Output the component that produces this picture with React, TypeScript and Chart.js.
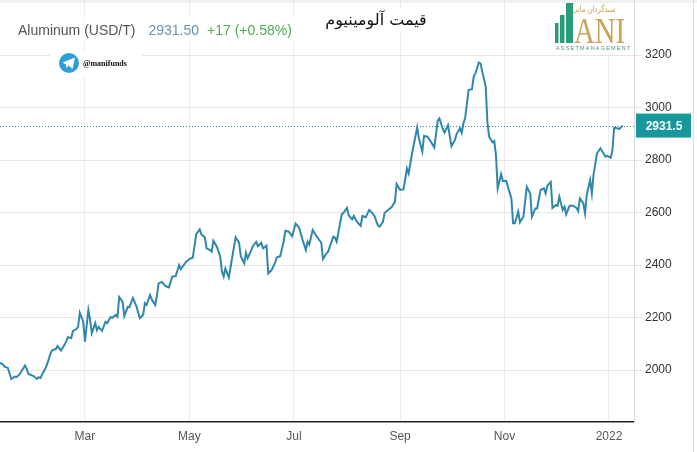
import { useEffect, useRef } from "react";
import { Chart, registerables } from "chart.js";

Chart.register(...registerables);

// day of year 2021 (Jan 1 = 0) for each sampled close
const days = [
  9, 11, 12, 14, 16, 18, 19, 21, 24, 25,
  26, 29, 31, 32, 33, 36, 37, 39, 40, 42,
  43, 45, 47, 48, 49, 51, 52, 54, 55, 56,
  58, 59, 61, 62, 63, 65, 66, 67, 69, 71,
  72, 74, 75, 77, 78, 79, 81, 82, 84, 85,
  87, 89, 91, 93, 94, 95, 97, 98, 100, 101,
  102, 104, 106, 108, 110, 112, 114, 115, 118, 120,
  122, 124, 126, 127, 129, 130, 132, 133, 134, 136,
  138, 139, 140, 141, 143, 145, 147, 149, 150, 152,
  153, 154, 156, 157, 159, 160, 162, 163, 165, 166,
  168, 170, 171, 173, 175, 176, 178, 180, 182, 184,
  186, 188, 189, 190, 192, 194, 195, 197, 198, 200,
  201, 204, 205, 206, 209, 210, 212, 213, 215, 216,
  218, 220, 221, 223, 225, 227, 228, 230, 231, 233,
  234, 236, 238, 240, 241, 243, 245, 247, 248, 250,
  253, 254, 256, 257, 259, 261, 263, 265, 266, 268,
  269, 271, 273, 275, 276, 278, 279, 280, 281, 283,
  285, 286, 287, 289, 290, 291, 293, 294, 295, 297,
  298, 299, 300, 302, 303, 305, 306, 308, 309, 310,
  312, 313, 315, 317, 319, 320, 322, 323, 325, 327,
  328, 329, 331, 332, 334, 335, 336, 338, 339, 340,
  342, 344, 346, 347, 348, 350, 351, 352, 354, 355,
  356, 358, 360, 361, 363, 364, 366, 367, 368, 370,
  371, 373,
];

const prices = [
  2027, 2023, 2013, 2008, 1966, 1975, 1973, 1985, 2017, 2004,
  1985, 1977, 1966, 1973, 1970, 2008, 2023, 2065, 2076, 2080,
  2091, 2074, 2095, 2108, 2125, 2122, 2149, 2156, 2165, 2218,
  2184, 2108, 2229, 2191, 2141, 2179, 2152, 2164, 2149, 2184,
  2179, 2202, 2199, 2210, 2203, 2278, 2260, 2206, 2241, 2240,
  2275, 2244, 2198, 2210, 2255, 2248, 2286, 2270, 2248, 2282,
  2330, 2336, 2320, 2315, 2356, 2358, 2400, 2384, 2412, 2423,
  2429, 2518, 2536, 2517, 2506, 2464, 2457, 2451, 2493, 2470,
  2432, 2375, 2356, 2387, 2353, 2429, 2506, 2485, 2434, 2407,
  2447, 2426, 2455, 2472, 2488, 2472, 2485, 2464, 2474, 2368,
  2381, 2409, 2429, 2434, 2489, 2531, 2527, 2510, 2558, 2543,
  2498, 2457, 2489, 2478, 2534, 2512, 2503, 2485, 2423, 2444,
  2451, 2508, 2504, 2489, 2594, 2599, 2618, 2590, 2574, 2587,
  2563, 2549, 2587, 2582, 2610, 2597, 2587, 2552, 2546, 2565,
  2599, 2610, 2620, 2641, 2709, 2686, 2688, 2768, 2749, 2825,
  2925, 2883, 2832, 2892, 2889, 2870, 2848, 2950, 2959, 2917,
  2904, 2933, 2853, 2876, 2899, 2921, 2904, 2940, 2959, 3067,
  3070, 3118, 3130, 3172, 3168, 3137, 3080, 2946, 2889, 2868,
  2873, 2819, 2692, 2746, 2720, 2720, 2698, 2654, 2559, 2559,
  2603, 2563, 2584, 2698, 2673, 2584, 2616, 2616, 2686, 2692,
  2673, 2702, 2717, 2618, 2629, 2626, 2660, 2610, 2622, 2593,
  2626, 2626, 2618, 2606, 2654, 2635, 2597, 2667, 2724, 2673,
  2746, 2826, 2845, 2834, 2813, 2816, 2809, 2838, 2923, 2921,
  2918, 2931.5,
];

const monthDays = [59, 120, 181, 243, 304, 365];
const monthLabels = ["Mar", "May", "Jul", "Sep", "Nov", "2022"];
const yTicks = [2000, 2200, 2400, 2600, 2800, 3000, 3200];
const lastPrice = 2931.5;

const titleName = "Aluminum (USD/T)";
const titlePrice = "2931.50";
const titleChange = "+17 (+0.58%)";
const titleFa = "قیمت آلومینیوم";
const telegramHandle = "@manifunds";
const logoFa = "سبدگردان مانی";
const logoMain = "ANI";
const logoSub = "ASSETMANAGEMENT";

const SANS = "'Liberation Sans', Arial, sans-serif";
const LINE = "#2f87ab";

const overlayPlugin = {
  id: "overlay",
  beforeDraw(chart: Chart) {
    const { ctx, width, height } = chart;
    ctx.save();
    ctx.fillStyle = "#fff";
    ctx.fillRect(0, 0, width, height);
    ctx.fillStyle = "#f1f1f1";
    ctx.fillRect(0, 0, width, 3);
    ctx.strokeStyle = "#dedede";
    ctx.lineWidth = 1;
    ctx.beginPath();
    ctx.moveTo(693.5, 0);
    ctx.lineTo(693.5, height);
    ctx.stroke();
    ctx.restore();
  },
  afterDatasetsDraw(chart: Chart) {
    const { ctx, chartArea } = chart;
    const y = chart.scales.y.getPixelForValue(lastPrice);
    ctx.save();
    // dotted last-price line
    ctx.strokeStyle = LINE;
    ctx.lineWidth = 1;
    ctx.setLineDash([1, 2]);
    ctx.beginPath();
    ctx.moveTo(chartArea.left, Math.round(y) + 0.5);
    ctx.lineTo(chartArea.right, Math.round(y) + 0.5);
    ctx.stroke();
    ctx.setLineDash([]);

    // price tag
    ctx.fillStyle = "#17979b";
    ctx.fillRect(636, y - 12, 55, 24);
    ctx.fillStyle = "#fff";
    ctx.font = `bold 12px ${SANS}`;
    ctx.textAlign = "center";
    ctx.textBaseline = "middle";
    ctx.fillText(String(lastPrice), 664, y + 1);

    // header
    ctx.fillStyle = "#fff";
    ctx.fillRect(12, 18, 290, 24);
    ctx.fillRect(322, 8, 106, 24);
    ctx.font = `14px ${SANS}`;
    ctx.textAlign = "left";
    ctx.textBaseline = "alphabetic";
    let x = 18;
    ctx.fillStyle = "#555";
    ctx.fillText(titleName, x, 35);
    x += ctx.measureText(titleName).width + 13;
    ctx.fillStyle = "#6892b6";
    ctx.fillText(titlePrice, x, 35);
    x += ctx.measureText(titlePrice).width + 8;
    ctx.fillStyle = "#4caf50";
    ctx.fillText(titleChange, x, 35);

    ctx.fillStyle = "#111";
    ctx.font = "16px 'DejaVu Sans', serif";
    ctx.textAlign = "center";
    ctx.fillText(titleFa, 376, 25);

    // telegram badge
    ctx.fillStyle = "#fff";
    ctx.fillRect(50, 51, 92, 26);
    ctx.fillStyle = "#2a9fd9";
    ctx.beginPath();
    ctx.arc(69, 63, 10, 0, Math.PI * 2);
    ctx.fill();
    ctx.fillStyle = "#fff";
    ctx.beginPath();
    ctx.moveTo(62.5, 62.5);
    ctx.lineTo(75, 57.5);
    ctx.lineTo(72.5, 69);
    ctx.lineTo(68.5, 65.5);
    ctx.lineTo(66, 68);
    ctx.lineTo(66, 64.5);
    ctx.closePath();
    ctx.fill();
    ctx.fillStyle = "#111";
    ctx.font = "bold 8px 'Liberation Serif', serif";
    ctx.textAlign = "left";
    ctx.textBaseline = "middle";
    ctx.fillText(telegramHandle, 83, 64);

    // logo
    ctx.fillStyle = "#fff";
    ctx.fillRect(548, 3, 86, 50);
    ctx.fillStyle = "#2a9c7b";
    ctx.fillRect(555, 23, 3.5, 20);
    ctx.fillRect(560, 15, 4.5, 28);
    ctx.fillRect(566, 3, 7, 40);
    ctx.fillStyle = "#c9a45c";
    ctx.save();
    ctx.translate(574, 43);
    ctx.scale(0.8, 1);
    ctx.font = "36px 'Liberation Serif', serif";
    ctx.textAlign = "left";
    ctx.textBaseline = "alphabetic";
    ctx.fillText(logoMain, 0, 0);
    ctx.restore();
    ctx.save();
    ctx.translate(594, 10);
    ctx.scale(0.75, 1);
    ctx.font = "9px 'DejaVu Sans', serif";
    ctx.textAlign = "center";
    ctx.textBaseline = "middle";
    ctx.fillText(logoFa, 0, 0);
    ctx.restore();
    ctx.fillStyle = "#4f8f80";
    ctx.font = `5.5px ${SANS}`;
    (ctx as any).letterSpacing = "1.2px";
    ctx.textAlign = "left";
    ctx.textBaseline = "middle";
    ctx.fillText(logoSub, 556, 48);
    (ctx as any).letterSpacing = "0px";
    ctx.restore();
  },
};

export default function App() {
  const canvasRef = useRef<HTMLCanvasElement>(null);
  const chartRef = useRef<Chart | null>(null);

  useEffect(() => {
    if (!canvasRef.current) return;
    chartRef.current?.destroy();

    chartRef.current = new Chart(canvasRef.current, {
      type: "line",
      data: {
        datasets: [{
          label: titleName,
          data: days.map((d, i) => ({ x: d, y: prices[i] })),
          borderColor: LINE,
          borderWidth: 2,
          pointRadius: 0,
          tension: 0,
          fill: false,
        }],
      },
      options: {
        responsive: true,
        maintainAspectRatio: false,
        animation: false,
        layout: { padding: 0 },
        plugins: {
          legend: { display: false },
          tooltip: { enabled: false },
        },
        scales: {
          x: {
            type: "linear",
            min: 9.4,
            max: 379.6,
            afterBuildTicks: (s: any) => { s.ticks = monthDays.map((v) => ({ value: v })); },
            afterFit: (s: any) => { s.height = 30; s.paddingLeft = 0; s.paddingRight = 0; },
            ticks: {
              callback: (v: any) => monthLabels[monthDays.indexOf(Number(v))],
              color: "#555",
              font: { size: 12, family: SANS },
              padding: 7,
              maxRotation: 0,
              autoSkip: false,
            },
            grid: { color: "#ececec", drawTicks: false },
            border: { color: "#222", width: 1.5 },
          },
          y: {
            position: "right",
            min: 1802,
            max: 3410,
            afterBuildTicks: (s: any) => { s.ticks = yTicks.map((v) => ({ value: v })); },
            afterFit: (s: any) => { s.width = 63; s.paddingTop = 0; s.paddingBottom = 0; },
            ticks: {
              callback: (v: any) => String(v),
              color: "#333",
              font: { size: 12, family: SANS },
              padding: 3,
            },
            grid: { color: "#e6e6e6", tickLength: 8 },
            border: { color: "#dcdcdc" },
          },
        },
      },
      plugins: [overlayPlugin],
    });

    return () => { chartRef.current?.destroy(); };
  }, []);

  return (
    <div style={{ position: "fixed", left: 0, top: 0, width: 697, height: 452, background: "#fff" }}>
      <canvas ref={canvasRef} />
    </div>
  );
}
